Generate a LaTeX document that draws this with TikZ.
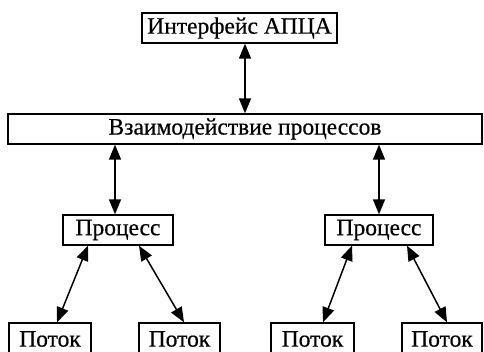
\documentclass[tikz,border=0pt]{standalone}
\usepackage{fontspec}
\setmainfont{Liberation Serif}[FakeBold=0.5]
\usetikzlibrary{arrows.meta}
\begin{document}
\begin{tikzpicture}[x=1pt,y=-1pt,
  box/.style={draw=black,line width=1.3pt,rectangle,inner sep=0pt,minimum height=30pt,font=\fontsize{23.5}{25}\selectfont},
  arr/.style={line width=1.5pt,{Triangle[length=15pt,width=12pt]}-{Triangle[length=15pt,width=12pt]}}]
\useasboundingbox (0,0) rectangle (484,352);
\clip (0,0) rectangle (484,352);
\node[box,minimum width=195pt] (top) at (239.5,28) {Интерфейс АПЦА};
\node[box,minimum width=474pt] (mid) at (245,129) {Взаимодействие процессов};
\node[box,minimum width=110pt] (p1) at (118,230) {Процесс};
\node[box,minimum width=108pt] (p2) at (379,230) {Процесс};
\node[box,minimum width=82pt,minimum height=32pt] (t1) at (50,339) {Поток};
\node[box,minimum width=81pt,minimum height=32pt] (t2) at (179.5,339) {Поток};
\node[box,minimum width=83pt,minimum height=32pt] (t3) at (312.5,339) {Поток};
\node[box,minimum width=80pt,minimum height=32pt] (t4) at (442,339) {Поток};
\draw[arr] (top.south -| mid.north) -- (mid.north);
\path ([xshift=-3pt]p1.north) coordinate (p1n);
\draw[arr] (p1n |- mid.south) -- (p1n);
\draw[arr] (mid.south -| p2.north) -- (p2.north);
\draw[arr] ([xshift=-30pt]p1.south) -- ([xshift=7pt]t1.north);
\draw[arr] ([xshift=21pt]p1.south) -- ([xshift=4.5pt]t2.north);
\draw[arr] ([xshift=-27pt]p2.south) -- ([xshift=10.5pt]t3.north);
\draw[arr] ([xshift=28pt]p2.south) -- ([xshift=5pt]t4.north);
\end{tikzpicture}
\end{document}
